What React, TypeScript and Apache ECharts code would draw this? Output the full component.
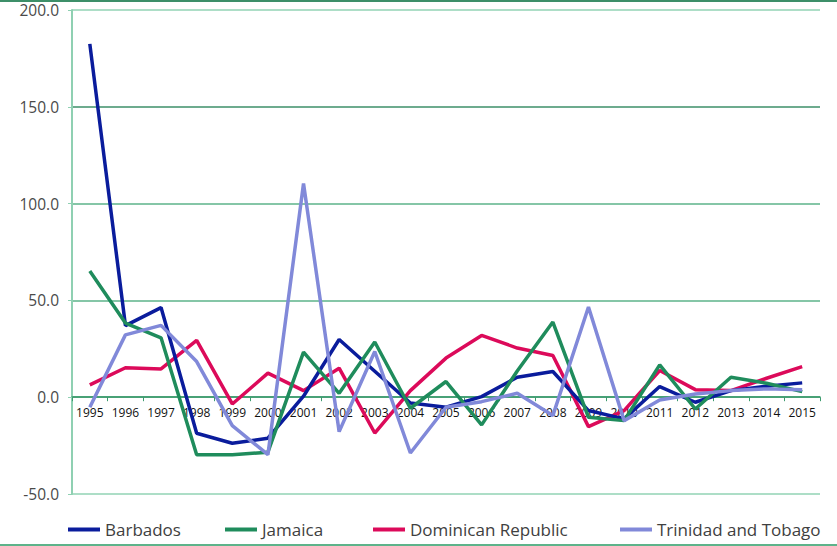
import React, { useEffect, useRef } from "react";
import * as echarts from "echarts";

const years = ["1995","1996","1997","1998","1999","2000","2001","2002","2003","2004","2005","2006","2007","2008","2009","2010","2011","2012","2013","2014","2015"];
const barbados = [182.5, 37, 46.3, -18.6, -23.8, -21.2, 0.5, 29.8, 13.4, -3, -5.2, 0.3, 10.3, 13.3, -6.9, -11.2, 5.5, -2.6, 3.4, 5.7, 7.4];
const jamaica = [65.2, 38.3, 30.7, -29.7, -29.7, -28.4, 23.3, 2.0, 28.5, -5.7, 8.1, -14.3, 13.5, 38.8, -10.4, -12.1, 16.7, -6.1, 10.3, 7.2, 2.9];
const dominican = [6.4, 15.2, 14.6, 29.3, -3.5, 12.4, 3.4, 15.0, -18.5, 3.4, 20.2, 31.9, 25.4, 21.5, -15.2, -6.9, 13.8, 3.9, 3.4, 9.8, 15.8];
const trinidad = [-5.2, 32.2, 37.1, 18.4, -14.7, -29.7, 110.4, -17.8, 23.6, -28.8, -5.2, -2.3, 2.0, -9.5, 46.6, -12.1, -1.4, 1.7, 3.4, 4.3, 3.9];
const seriesNames = ["Barbados", "Jamaica", "Dominican Republic", "Trinidad and Tobago"];
const seriesColors = ["#0a1c9c", "#1f8c5c", "#dc0a5a", "#8189d9"];
const legendLefts = [63, 220, 368, 615];

const GRID_TOP = 10;
const GRID_BOTTOM = 52;
const Y_MIN = -50;
const Y_MAX = 200;

export default function App() {
  const ref = useRef<HTMLDivElement>(null);
  useEffect(() => {
    if (!ref.current) return;
    const chart = echarts.init(ref.current, undefined, { renderer: "svg" });
    const data = [barbados, jamaica, dominican, trinidad];
    const plotH = 546 - GRID_TOP - GRID_BOTTOM;
    const zeroOffset = -(plotH * (0 - Y_MIN)) / (Y_MAX - Y_MIN);
    chart.setOption({
      animation: false,
      textStyle: { fontFamily: "Open Sans" },
      grid: { left: 72, right: 17, top: GRID_TOP, bottom: GRID_BOTTOM, containLabel: false },
      legend: seriesNames.map((n, i) => ({
        data: [n],
        left: legendLefts[i],
        top: 516,
        icon: "rect",
        itemWidth: 32,
        itemHeight: 4,
        textStyle: { fontSize: 17, color: "#404040", fontFamily: "Open Sans" },
      })),
      xAxis: {
        type: "category",
        data: years,
        boundaryGap: true,
        position: "bottom",
        offset: zeroOffset,
        axisLine: { onZero: false, lineStyle: { color: "#3d9b6e", width: 1.5 } },
        axisTick: { show: true, length: 4, inside: false, lineStyle: { color: "#3d9b6e" } },
        axisLabel: { interval: 0, fontSize: 12, color: "#111", margin: 9, fontFamily: "Open Sans" },
        splitLine: { show: false },
      },
      yAxis: {
        type: "value",
        min: Y_MIN,
        max: Y_MAX,
        interval: 50,
        axisLine: { show: true, lineStyle: { color: "#8fd0b2", width: 2 } },
        axisTick: { show: true, length: 4, lineStyle: { color: "#8fd0b2" } },
        axisLabel: {
          fontSize: 15.5,
          color: "#4a4a4a",
          margin: 13,
          formatter: (v: number) => v.toFixed(1),
          fontFamily: "Open Sans",
        },
        splitLine: {
          show: true,
          lineStyle: {
            color: ["#92d3b5", "#3d9b6e", "#5db38a", "#5db38a", "#3d8f69", "#92d3b5"],
            width: 1.5,
          },
        },
      },
      graphic: [
        { type: "line", shape: { x1: 0, y1: 1, x2: 837, y2: 1 }, style: { stroke: "#3d8f69", lineWidth: 2 } },
        { type: "line", shape: { x1: 0, y1: 545, x2: 837, y2: 545 }, style: { stroke: "#5db38a", lineWidth: 2 } },
      ],
      series: seriesNames.map((n, i) => ({
        name: n,
        type: "line",
        data: data[i],
        symbol: "none",
        lineStyle: { width: 3.5, color: seriesColors[i] },
        itemStyle: { color: seriesColors[i] },
        z: [3, 4, 2, 5][i],
      })),
    });
    return () => chart.dispose();
  }, []);
  return <div ref={ref} style={{ width: 837, height: 546, position: "absolute", left: 0, top: 0 }} />;
}
